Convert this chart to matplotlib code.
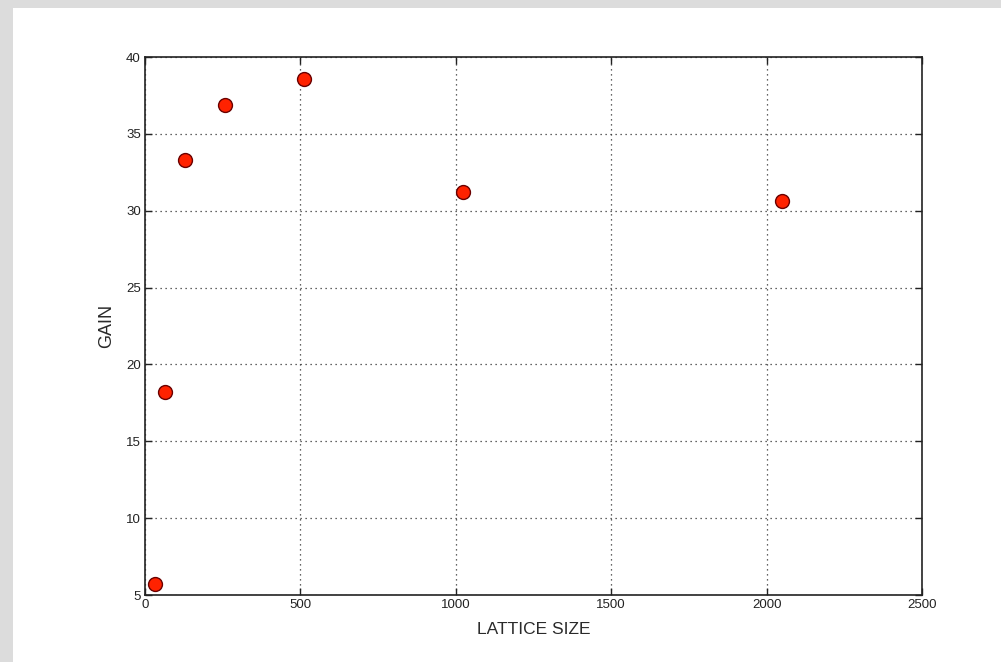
import matplotlib
matplotlib.use("Agg")
import matplotlib.pyplot as plt
from matplotlib.patches import Rectangle

lattice_size = [32, 64, 128, 256, 512, 1024, 2048]
gain = [5.7, 18.2, 33.3, 36.9, 38.6, 31.2, 30.6]
x_ticks = [0, 500, 1000, 1500, 2000, 2500]
y_ticks = [5, 10, 15, 20, 25, 30, 35, 40]

plt.rcParams['font.family'] = ['Liberation Sans', 'DejaVu Sans']

fig = plt.figure(figsize=(10.01, 6.62), dpi=100)
fig.patch.set_facecolor('#dcdcdc')
fig.patches.append(Rectangle((13/1001, 0), 1, 1 - 8/662, transform=fig.transFigure,
                             facecolor='white', edgecolor='none', zorder=-10))

ax = fig.add_axes([145/1001, 1 - 595/662, (922 - 145)/1001, (595 - 57)/662])
ax.set_zorder(5)
ax.plot(lattice_size, gain, linestyle='none', marker='o', markersize=10,
        markerfacecolor='#ff2200', markeredgecolor='#6a0000', markeredgewidth=1.0,
        zorder=3, clip_on=False)
ax.set_xlim(0, 2500)
ax.set_ylim(5, 40)
ax.set_xticks(x_ticks)
ax.set_yticks(y_ticks)
ax.tick_params(direction='in', top=True, right=True, length=5, width=1,
               colors='#222222', pad=3, labelsize=9.5)
ax.grid(True, linestyle=(0, (1, 3)), color='#333333', linewidth=0.9)
for s in ax.spines.values():
    s.set_linewidth(1.2)
    s.set_color('#222222')
ax.set_xlabel('LATTICE SIZE', fontsize=12.5, color='#2a2a2a', labelpad=8)
ax.set_ylabel('GAIN', fontsize=13, color='#2a2a2a', labelpad=8)

fig.savefig('out.png', dpi=100, facecolor=fig.get_facecolor())
